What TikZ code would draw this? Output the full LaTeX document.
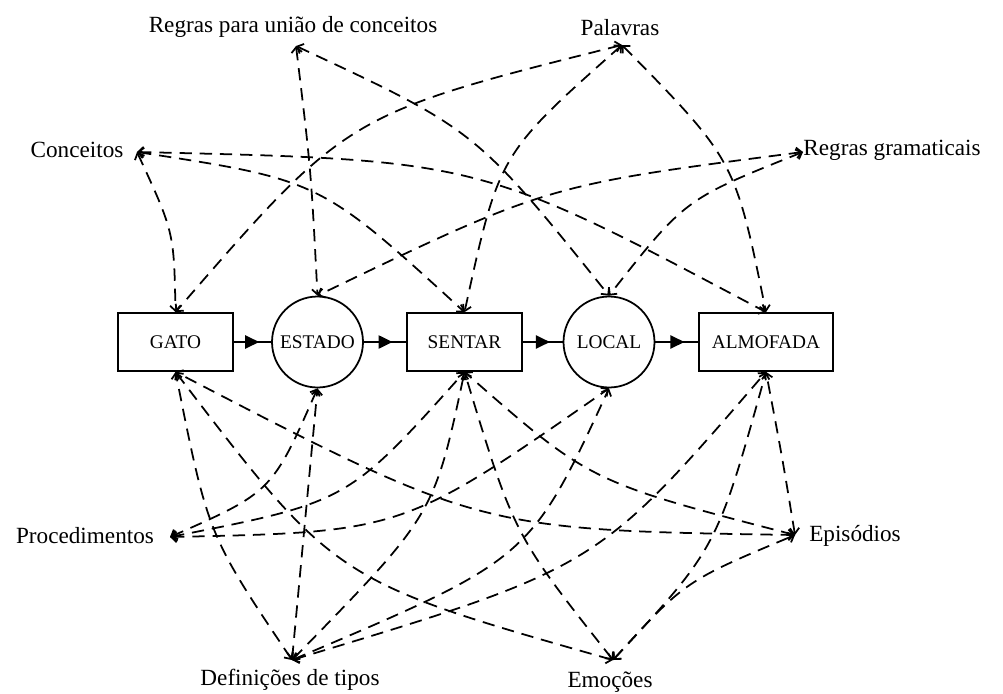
\documentclass[tikz,border=0pt]{standalone}
\usepackage{fontspec}
\setmainfont{Liberation Serif}
\usetikzlibrary{arrows.meta,decorations.markings}

\begin{document}
\begin{tikzpicture}[x=0.02cm,y=-0.02cm,
  lbl/.style={anchor=base,inner sep=0pt,font=\fontsize{13.2}{15}\selectfont},
  concept/.style={draw,line width=1pt,rectangle,minimum height=1.16cm,
    inner sep=0pt,font=\fontsize{11}{13}\selectfont},
  relation/.style={draw,line width=1pt,circle,minimum size=1.82cm,
    inner sep=0pt,font=\fontsize{11}{13}\selectfont},
  flow/.style={line width=1pt,
    decoration={markings,mark=at position 0.68 with
      {\arrow{Triangle[length=8pt,width=7.5pt]}}},
    postaction={decorate}},
  link/.style={line width=1pt,dash pattern=on 7pt off 4.5pt,
    arrows={Straight Barb[length=3pt,width=6pt]-Straight Barb[length=3pt,width=6pt]}}
]
\useasboundingbox (0,0) rectangle (1003,693);

% conceptual graph
\node[concept,minimum width=2.30cm] (gato)     at (175.5,342) {GATO};
\node[relation]                     (estado)   at (317.5,342) {ESTADO};
\node[concept,minimum width=2.30cm] (sentar)   at (464.5,342) {SENTAR};
\node[relation]                     (local)    at (609,342)   {LOCAL};
\node[concept,minimum width=2.68cm] (almofada) at (766,342)   {ALMOFADA};

\draw[flow] (gato) -- (estado);
\draw[flow] (estado) -- (sentar);
\draw[flow] (sentar) -- (local);
\draw[flow] (local) -- (almofada);

% knowledge sources
\node[lbl] (lR)  at (293,32)  {Regras para união de conceitos};
\node[lbl] (lP)  at (620,35)  {Palavras};
\node[lbl] (lC)  at (77,157)  {Conceitos};
\node[lbl] (lG)  at (892,155) {Regras gramaticais};
\node[lbl] (lPr) at (85,543)  {Procedimentos};
\node[lbl] (lE)  at (855,541) {Episódios};
\node[lbl] (lD)  at (290,685) {Definições de tipos};
\node[lbl] (lM)  at (610,687) {Emoções};

% link ends beside the source labels
\coordinate (cR)  at (296,46);
\coordinate (cP)  at (622,45);
\coordinate (cC)  at (137,152);
\coordinate (cG)  at (803,152);
\coordinate (cPr) at (170,537);
\coordinate (cE)  at (795,535);
\coordinate (cD)  at (292,660);
\coordinate (cM)  at (613,660);

% upper links
\draw[link] (cC) .. controls (174,232) .. (gato.north);
\draw[link] (cC) .. controls (320,180) .. (sentar.north);
\draw[link] (cC) .. controls (480,160) .. (almofada.north);
\draw[link] (cR) .. controls (311,170) .. (estado.north);
\draw[link] (cR) .. controls (476,130) .. (local.north);
\draw[link] (cP) .. controls (347,114) .. (gato.north);
\draw[link] (cP) .. controls (499,154) .. (sentar.north);
\draw[link] (cP) .. controls (735,160) .. (almofada.north);
\draw[link] (cG) .. controls (547,185) .. (estado.north);
\draw[link] (cG) .. controls (685,199) .. (local.north);

% lower links
\draw[link] (cPr) .. controls (272,492) .. (estado.south);
\draw[link] (cPr) .. controls (348,502) .. (sentar.south);
\draw[link] (cPr) .. controls (403,532) .. (local.south);
\draw[link] (cD) .. controls (208,535) .. (gato.south);
\draw[link] (cD) .. controls (305,525) .. (estado.south);
\draw[link] (cD) .. controls (434,515) .. (sentar.south);
\draw[link] (cD) .. controls (530,559) .. (local.south);
\draw[link] (cD) .. controls (597,568) .. (almofada.south);
\draw[link] (cM) .. controls (335,581) .. (gato.south);
\draw[link] (cM) .. controls (514,535) .. (sentar.south);
\draw[link] (cM) .. controls (717,548) .. (almofada.south);
\draw[link] (cM) .. controls (685,581) .. (cE);
\draw[link] (cE) .. controls (480,530) .. (gato.south);
\draw[link] (cE) .. controls (590,482) .. (sentar.south);
\draw[link] (cE) .. controls (782,456) .. (almofada.south);
\end{tikzpicture}
\end{document}
